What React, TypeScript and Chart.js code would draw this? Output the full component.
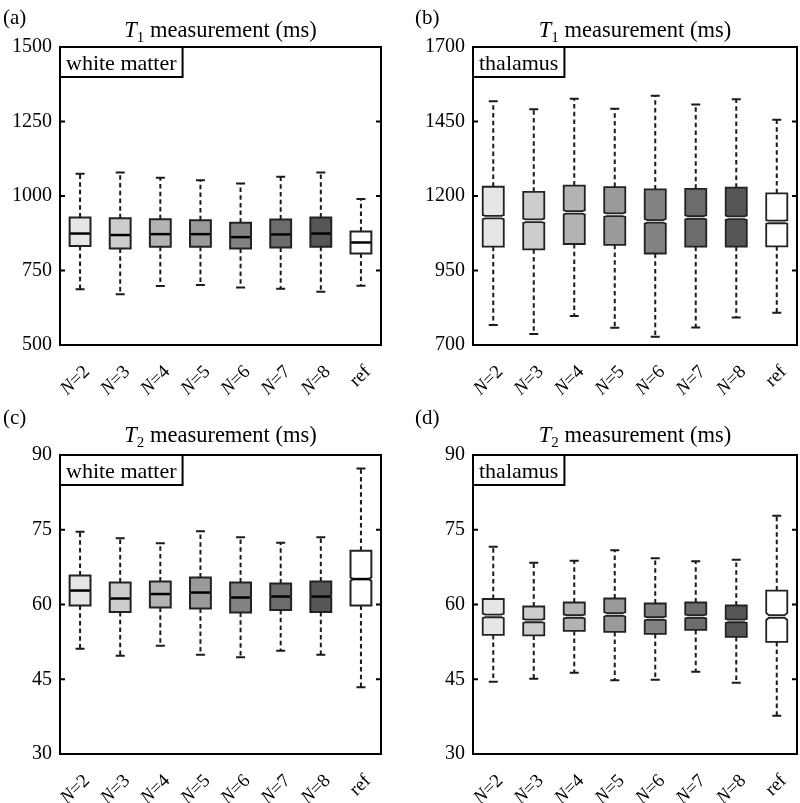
import React, { useEffect, useRef } from 'react';
import { Chart, registerables } from 'chart.js';
Chart.register(...registerables);

const FONT = '"Liberation Serif", "Times New Roman", serif';

const categories = ['N=2', 'N=3', 'N=4', 'N=5', 'N=6', 'N=7', 'N=8', 'ref'];
const boxFills = ['#e6e6e6', '#cdcdcd', '#b3b3b3', '#9a9a9a', '#838383', '#6c6c6c', '#565656', '#ffffff'];

// (a) T1 white matter
const t1WmMin = [687, 670, 698, 701, 693, 689, 679, 699];
const t1WmQ1 = [832, 824, 830, 830, 824, 827, 830, 807];
const t1WmMed = [874, 869, 872, 872, 862, 871, 874, 844];
const t1WmQ3 = [928, 925, 922, 919, 910, 921, 928, 881];
const t1WmMax = [1075, 1079, 1061, 1053, 1042, 1065, 1079, 990];
const t1WmNotch = [2, 2, 2, 2, 2, 2, 2, 2];

// (b) T1 thalamus
const t1ThMin = [767, 737, 797, 758, 728, 759, 792, 808];
const t1ThQ1 = [1030, 1021, 1039, 1036, 1007, 1030, 1030, 1031];
const t1ThMed = [1129, 1117, 1145, 1137, 1115, 1128, 1127, 1113];
const t1ThQ3 = [1231, 1214, 1235, 1230, 1222, 1224, 1228, 1209];
const t1ThMax = [1518, 1491, 1526, 1493, 1536, 1507, 1525, 1456];
const t1ThNotch = [7, 7, 7, 7, 8, 7, 7, 6];

// (c) T2 white matter
const t2WmMin = [51.1, 49.7, 51.7, 49.9, 49.4, 50.7, 49.9, 43.4];
const t2WmQ1 = [59.8, 58.5, 59.4, 59.2, 58.4, 58.9, 58.5, 59.8];
const t2WmMed = [62.8, 61.2, 62.1, 62.4, 61.4, 61.6, 61.6, 65.1];
const t2WmQ3 = [65.8, 64.4, 64.6, 65.4, 64.4, 64.2, 64.6, 70.8];
const t2WmMax = [74.6, 73.3, 72.3, 74.7, 73.5, 72.4, 73.5, 87.3];
const t2WmNotch = [0.15, 0.15, 0.15, 0.15, 0.15, 0.15, 0.15, 0.35];

// (d) T2 thalamus
const t2ThMin = [44.5, 45.1, 46.3, 44.8, 44.9, 46.5, 44.3, 37.7];
const t2ThQ1 = [53.9, 53.8, 54.7, 54.5, 54.1, 54.9, 53.5, 52.5];
const t2ThMed = [57.7, 56.7, 57.6, 58.0, 57.2, 57.6, 56.7, 57.6];
const t2ThQ3 = [61.1, 59.6, 60.4, 61.2, 60.2, 60.4, 59.8, 62.8];
const t2ThMax = [71.6, 68.4, 68.8, 70.9, 69.3, 68.7, 69.0, 77.8];
const t2ThNotch = [0.45, 0.4, 0.4, 0.45, 0.4, 0.4, 0.4, 0.7];

type Panel = {
  letter: string; sub: string; region: string; split: boolean;
  min: number[]; q1: number[]; med: number[]; q3: number[]; max: number[]; notch: number[];
  yMin: number; yMax: number; step: number;
  left: number; top: number; w: number; h: number;
  pad: { left: number; right: number; top: number; bottom: number };
  letterX: number; letterY: number; titleY: number;
};

const panels: Panel[] = [
  { letter: '(a)', sub: '1', region: 'white matter', split: false, min: t1WmMin, q1: t1WmQ1, med: t1WmMed, q3: t1WmQ3, max: t1WmMax, notch: t1WmNotch,
    yMin: 500, yMax: 1500, step: 250, left: 0, top: 0, w: 400, h: 400,
    pad: { left: 60, right: 19, top: 47, bottom: 55 }, letterX: 3, letterY: 24, titleY: 37 },
  { letter: '(b)', sub: '1', region: 'thalamus', split: true, min: t1ThMin, q1: t1ThQ1, med: t1ThMed, q3: t1ThQ3, max: t1ThMax, notch: t1ThNotch,
    yMin: 700, yMax: 1700, step: 250, left: 400, top: 0, w: 400, h: 400,
    pad: { left: 73, right: 3, top: 47, bottom: 55 }, letterX: 15, letterY: 24, titleY: 37 },
  { letter: '(c)', sub: '2', region: 'white matter', split: false, min: t2WmMin, q1: t2WmQ1, med: t2WmMed, q3: t2WmQ3, max: t2WmMax, notch: t2WmNotch,
    yMin: 30, yMax: 90, step: 15, left: 0, top: 400, w: 400, h: 403,
    pad: { left: 60, right: 19, top: 55, bottom: 49 }, letterX: 3, letterY: 24, titleY: 42 },
  { letter: '(d)', sub: '2', region: 'thalamus', split: true, min: t2ThMin, q1: t2ThQ1, med: t2ThMed, q3: t2ThQ3, max: t2ThMax, notch: t2ThNotch,
    yMin: 30, yMax: 90, step: 15, left: 400, top: 400, w: 400, h: 403,
    pad: { left: 73, right: 3, top: 55, bottom: 49 }, letterX: 15, letterY: 24, titleY: 42 },
];

type Run = { text: string; font: string; dy?: number };

function drawRuns(ctx: CanvasRenderingContext2D, runs: Run[], x: number, y: number, align: 'left' | 'center' | 'right') {
  let total = 0;
  const widths = runs.map(r => { ctx.font = r.font; const w = ctx.measureText(r.text).width; total += w; return w; });
  let cx = align === 'left' ? x : align === 'center' ? x - total / 2 : x - total;
  ctx.textAlign = 'left';
  runs.forEach((r, i) => {
    ctx.font = r.font;
    ctx.fillText(r.text, cx, y + (r.dy || 0));
    cx += widths[i];
  });
}

function makePlugin(p: Panel) {
  return {
    id: 'boxplotDraw',
    afterDraw(chart: any) {
      const { ctx, chartArea: ca, scales } = chart;
      const x = scales.x, y = scales.y;
      const spacing = x.getPixelForValue(1) - x.getPixelForValue(0);
      const hw = spacing * 0.26;
      const capHw = 4.5;
      ctx.save();
      ctx.fillStyle = '#000';
      ctx.strokeStyle = '#000';

      for (let i = 0; i < categories.length; i++) {
        const cx = x.getPixelForValue(i);
        const yMin = y.getPixelForValue(p.min[i]);
        const yQ1 = y.getPixelForValue(p.q1[i]);
        const yMed = y.getPixelForValue(p.med[i]);
        const yQ3 = y.getPixelForValue(p.q3[i]);
        const yMax = y.getPixelForValue(p.max[i]);
        // whiskers
        ctx.strokeStyle = '#1a1a1a';
        ctx.lineWidth = 2;
        ctx.setLineDash([4.5, 3.2]);
        ctx.beginPath();
        ctx.moveTo(cx, yQ3); ctx.lineTo(cx, yMax);
        ctx.moveTo(cx, yQ1); ctx.lineTo(cx, yMin);
        ctx.stroke();
        ctx.setLineDash([]);
        ctx.lineWidth = 2;
        ctx.beginPath();
        ctx.moveTo(cx - capHw, yMax); ctx.lineTo(cx + capHw, yMax);
        ctx.moveTo(cx - capHw, yMin); ctx.lineTo(cx + capHw, yMin);
        ctx.stroke();
        // notched box
        const nTop = y.getPixelForValue(Math.min(p.med[i] + p.notch[i], p.q3[i]));
        const nBot = y.getPixelForValue(Math.max(p.med[i] - p.notch[i], p.q1[i]));
        const d = Math.min(hw * 0.25, (nBot - nTop) * 0.9);
        ctx.lineJoin = 'miter';
        if (p.split) {
          const g = 1.3;
          // upper half
          ctx.beginPath();
          ctx.moveTo(cx - hw, yQ3);
          ctx.lineTo(cx + hw, yQ3);
          ctx.lineTo(cx + hw, nTop);
          ctx.lineTo(cx + hw - d, yMed - g);
          ctx.lineTo(cx - hw + d, yMed - g);
          ctx.lineTo(cx - hw, nTop);
          ctx.closePath();
          ctx.fillStyle = boxFills[i];
          ctx.fill();
          ctx.strokeStyle = '#222';
          ctx.lineWidth = 1.8;
          ctx.stroke();
          // lower half
          ctx.beginPath();
          ctx.moveTo(cx - hw + d, yMed + g);
          ctx.lineTo(cx + hw - d, yMed + g);
          ctx.lineTo(cx + hw, nBot);
          ctx.lineTo(cx + hw, yQ1);
          ctx.lineTo(cx - hw, yQ1);
          ctx.lineTo(cx - hw, nBot);
          ctx.closePath();
          ctx.fill();
          ctx.stroke();
        } else {
          ctx.beginPath();
          ctx.moveTo(cx - hw, yQ3);
          ctx.lineTo(cx + hw, yQ3);
          ctx.lineTo(cx + hw, nTop);
          ctx.lineTo(cx + hw - d, yMed);
          ctx.lineTo(cx + hw, nBot);
          ctx.lineTo(cx + hw, yQ1);
          ctx.lineTo(cx - hw, yQ1);
          ctx.lineTo(cx - hw, nBot);
          ctx.lineTo(cx - hw + d, yMed);
          ctx.lineTo(cx - hw, nTop);
          ctx.closePath();
          ctx.fillStyle = boxFills[i];
          ctx.fill();
          ctx.strokeStyle = '#222';
          ctx.lineWidth = 2;
          ctx.stroke();
          // median
          ctx.strokeStyle = '#000';
          ctx.lineWidth = 2.5;
          ctx.beginPath();
          ctx.moveTo(cx - hw + d, yMed);
          ctx.lineTo(cx + hw - d, yMed);
          ctx.stroke();
        }

        // x labels
        ctx.save();
        ctx.fillStyle = '#000';
        ctx.translate(cx + 7, ca.bottom + 24);
        ctx.rotate(-Math.PI / 4);
        ctx.textBaseline = 'middle';
        const lab = categories[i];
        if (lab.startsWith('N')) {
          drawRuns(ctx, [
            { text: 'N', font: `italic 19px ${FONT}` },
            { text: lab.slice(1), font: `19px ${FONT}` },
          ], 0, 0, 'right');
        } else {
          drawRuns(ctx, [{ text: lab, font: `19px ${FONT}` }], 0, 0, 'right');
        }
        ctx.restore();
      }

      // frame
      ctx.strokeStyle = '#000';
      ctx.lineWidth = 2;
      ctx.strokeRect(ca.left, ca.top, ca.right - ca.left, ca.bottom - ca.top);
      // inner ticks on left and right
      y.ticks.forEach((t: any) => {
        if (t.value === p.yMin || t.value === p.yMax) return;
        const py = y.getPixelForValue(t.value);
        ctx.beginPath();
        ctx.moveTo(ca.left, py); ctx.lineTo(ca.left + 5, py);
        ctx.moveTo(ca.right, py); ctx.lineTo(ca.right - 5, py);
        ctx.stroke();
      });

      // region label box
      ctx.font = `22px ${FONT}`;
      const tw = ctx.measureText(p.region).width;
      ctx.fillStyle = '#fff';
      ctx.fillRect(ca.left, ca.top, tw + 12, 30);
      ctx.strokeRect(ca.left, ca.top, tw + 12, 30);
      ctx.fillStyle = '#000';
      ctx.textBaseline = 'alphabetic';
      ctx.textAlign = 'left';
      ctx.fillText(p.region, ca.left + 6, ca.top + 23);

      // title
      drawRuns(ctx, [
        { text: 'T', font: `italic 22.5px ${FONT}` },
        { text: p.sub, font: `15px ${FONT}`, dy: 5 },
        { text: ' measurement (ms)', font: `22.5px ${FONT}` },
      ], (ca.left + ca.right) / 2, p.titleY, 'center');

      // panel letter
      ctx.font = `21px ${FONT}`;
      ctx.fillText(p.letter, p.letterX, p.letterY);
      ctx.restore();
    },
  };
}

function PanelChart({ p }: { p: Panel }) {
  const ref = useRef<HTMLCanvasElement | null>(null);
  useEffect(() => {
    if (!ref.current) return;
    const chart = new Chart(ref.current, {
      type: 'bar',
      data: {
        labels: categories,
        datasets: [{
          data: p.q1.map((q, i) => [q, p.q3[i]]) as any,
          backgroundColor: 'rgba(0,0,0,0)',
          borderWidth: 0,
        }],
      },
      options: {
        animation: false,
        responsive: false,
        events: [],
        layout: { padding: { left: 0, right: p.pad.right, top: p.pad.top, bottom: p.pad.bottom } },
        plugins: { legend: { display: false }, tooltip: { enabled: false }, title: { display: false } },
        scales: {
          x: { display: false, offset: true, type: 'category' },
          y: {
            min: p.yMin, max: p.yMax,
            ticks: { stepSize: p.step, color: '#000', padding: 8, font: { family: FONT, size: 20 },
              callback: (v: any) => String(v) },
            grid: { display: false, drawTicks: false },
            border: { display: false },
            afterFit: (s: any) => { s.width = p.pad.left; },
          },
        },
      } as any,
      plugins: [makePlugin(p)],
    });
    return () => chart.destroy();
  }, [p]);
  return (
    <canvas ref={ref} width={p.w} height={p.h}
      style={{ position: 'absolute', left: p.left, top: p.top, width: p.w, height: p.h }} />
  );
}

export default function App() {
  useEffect(() => {
    document.body.style.margin = '0';
    document.body.style.background = '#fff';
  }, []);
  return (
    <div style={{ position: 'relative', width: 800, height: 803, background: '#fff' }}>
      {panels.map(p => <PanelChart key={p.letter} p={p} />)}
    </div>
  );
}
